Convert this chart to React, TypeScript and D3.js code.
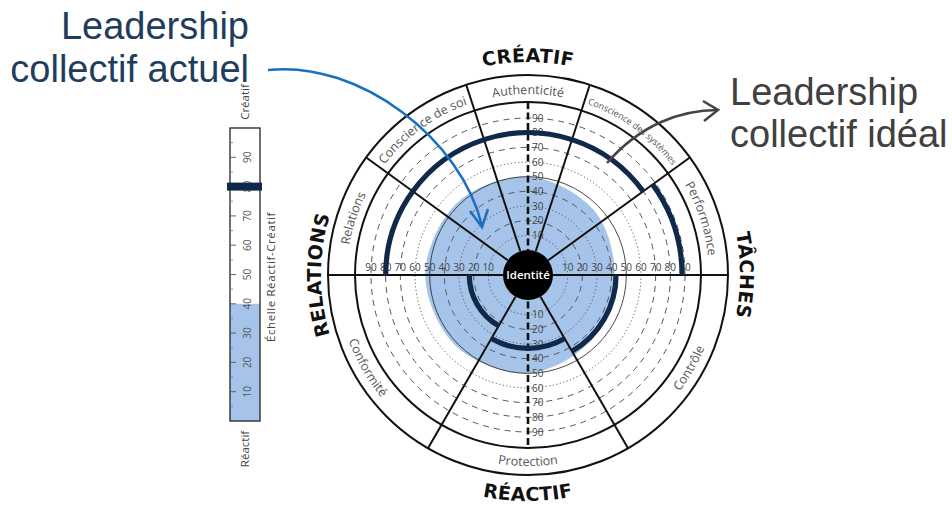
import React from "react";
import * as d3 from "d3";

// ---------- data ----------
const sectorNames = ["Relations", "Conscience de soi", "Authenticité", "Conscience des systèmes", "Performance", "Contrôle", "Protection", "Conformité"];
const sectorStartDeg = [-90, -54, -18, 18, 54, 90, 150, 210];
const sectorEndDeg = [-54, -18, 18, 54, 90, 150, 210, 270];
const idealValues = [80, 80, 80, 80, 88, 43, 33, 23];

// current profile (blue area), by direction (degrees, 0 = top, clockwise)
const currentAngles = [0, 45, 90, 135, 180, 225, 270, 315];
const currentValues = [50, 46, 42, 45, 50, 52, 53, 52];

const ringTicks = [10, 20, 30, 40, 50, 60, 70, 80, 90];
const ringStyles = ["dot", "dash", "dot", "dash", "solid", "dot", "dash", "dash", "dash"];

const axisLabels = ["CRÉATIF", "TÂCHES", "RÉACTIF", "RELATIONS"];

const barTicks = [10, 20, 30, 40, 50, 60, 70, 80, 90];
const barMinor = [5, 15, 25, 35, 45, 55, 65, 75, 85, 95];
const barCurrent = 40;
const barIdeal = 80;

// ---------- geometry ----------
const W = 952, H = 509;
const cx = 528, cy = 275;
const rCore = 25;
const rInner = 173;
const rOuter = 200;
const r = d3.scaleLinear().domain([0, 90]).range([rCore, 157]);
const rad = (d: number) => (d * Math.PI) / 180;
const px = (a: number, rr: number) => cx + rr * Math.sin(rad(a));
const py = (a: number, rr: number) => cy - rr * Math.cos(rad(a));

function arcPath(rr: number, a0: number, a1: number) {
  const sweep = a1 > a0 ? 1 : 0;
  const large = Math.abs(a1 - a0) > 180 ? 1 : 0;
  return `M${px(a0, rr)},${py(a0, rr)} A${rr},${rr} 0 ${large} ${sweep} ${px(a1, rr)},${py(a1, rr)}`;
}

const yBar = d3.scaleLinear().domain([0, 100]).range([421, 128]);

const NAVY = "#10294a";
const BLUE = "#a6c4ea";
const FONT = "'Open Sans', sans-serif";

export default function App() {
  const arcGen = d3.arc<any>();
  const blobGen = d3
    .lineRadial<number>()
    .angle((_, i) => rad(currentAngles[i]))
    .radius((v) => r(v))
    .curve(d3.curveCardinalClosed);
  const blob = blobGen(currentValues) || "";

  const dashFor = (s: string) => (s === "dash" ? "6,5" : s === "dot" ? "1.2,2.4" : undefined);

  const spokes = Array.from(new Set([...sectorStartDeg, ...sectorEndDeg])).filter((a) => a !== 270 && a !== -90 && a !== 90);

  return (
    <svg width={W} height={H} style={{ position: "absolute", left: 0, top: 0, background: "#fff" }} fontFamily={FONT}>
      <defs>
        {sectorNames.map((_, i) => {
          const top = i < 5;
          const a0 = sectorStartDeg[i], a1 = sectorEndDeg[i];
          return (
            <path
              key={"lp" + i}
              id={"lp" + i}
              d={top ? arcPath(181, a0, a1) : arcPath(191, a1, a0)}
              fill="none"
            />
          );
        })}
        <path id="ax0" d={arcPath(213, -40, 40)} fill="none" />
        <path id="ax1" d={arcPath(212, 50, 130)} fill="none" />
        <path id="ax2" d={arcPath(226, 220, 140)} fill="none" />
        <path id="ax3" d={arcPath(207, 230, 310)} fill="none" />
      </defs>

      {/* blue current area */}
      <path d={blob} transform={`translate(${cx},${cy})`} fill={BLUE} />

      {/* concentric rings */}
      {ringTicks.map((v, i) => (
        <circle
          key={"ring" + v}
          cx={cx}
          cy={cy}
          r={r(v)}
          fill="none"
          stroke={ringStyles[i] === "solid" ? "#333" : "#555"}
          strokeWidth={ringStyles[i] === "solid" ? 0.9 : 1}
          strokeDasharray={dashFor(ringStyles[i])}
        />
      ))}

      {/* outer rings */}
      <circle cx={cx} cy={cy} r={rInner} fill="none" stroke="#111" strokeWidth={2} />
      <circle cx={cx} cy={cy} r={rOuter} fill="none" stroke="#111" strokeWidth={2} />

      {/* horizontal axis */}
      <line x1={cx - rOuter} x2={cx + rOuter} y1={cy} y2={cy} stroke="#111" strokeWidth={2} />
      {/* spokes */}
      {spokes.map((a) => (
        <line key={"sp" + a} x1={px(a, rCore)} y1={py(a, rCore)} x2={px(a, rOuter)} y2={py(a, rOuter)} stroke="#111" strokeWidth={2} />
      ))}

      {/* vertical dashed axis */}
      <line x1={cx} x2={cx} y1={cy - rInner} y2={cy + rInner} stroke="#111" strokeWidth={2.6} strokeDasharray="7,3.5" />

      {/* tick labels */}
      {ringTicks.map((v) => (
        <g key={"tl" + v} fontSize={10} fill="#444">
          <text x={cx - r(v)} y={cy - 4} textAnchor="middle">{v}</text>
          <text x={cx + r(v)} y={cy - 4} textAnchor="middle">{v}</text>
          <text x={cx + 4} y={cy - r(v)} dy="0.35em" textAnchor="start">{v}</text>
          <text x={cx + 4} y={cy + r(v)} dy="0.35em" textAnchor="start">{v}</text>
        </g>
      ))}

      {/* ideal arcs */}
      {idealValues.map((v, i) => (
        <path
          key={"ideal" + i}
          transform={`translate(${cx},${cy})`}
          d={
            arcGen({
              innerRadius: r(v) - 2.6,
              outerRadius: r(v) + 2.6,
              startAngle: rad(sectorStartDeg[i]),
              endAngle: rad(sectorEndDeg[i]),
            }) || ""
          }
          fill={NAVY}
        />
      ))}

      {/* Identité */}
      <circle cx={cx} cy={cy} r={rCore} fill="#000" />
      <text x={cx} y={cy} dy="0.35em" textAnchor="middle" fill="#fff" fontSize={11.5} fontWeight={600}>
        Identité
      </text>

      {/* sector labels */}
      {sectorNames.map((name, i) => (
        <text key={"sl" + i} fontSize={name.length > 20 ? 9 : 12.5} fill="#555">
          <textPath href={"#lp" + i} startOffset="50%" textAnchor="middle">
            {name}
          </textPath>
        </text>
      ))}

      {/* axis labels */}
      {axisLabels.map((t, i) => (
        <text key={"ax" + i} fontSize={19} fontWeight={700} fill="#111" fontFamily="'DejaVu Sans', sans-serif" letterSpacing={0.3}>
          <textPath href={"#ax" + i} startOffset="50%" textAnchor="middle">
            {t}
          </textPath>
        </text>
      ))}

      {/* scale bar */}
      <g>
        <rect x={230} y={yBar(barCurrent)} width={30} height={yBar(0) - yBar(barCurrent)} fill={BLUE} />
        <rect x={230} y={yBar(100)} width={30} height={yBar(0) - yBar(100)} fill="none" stroke="#222" strokeWidth={1.3} />
        {barTicks.map((v) => (
          <g key={"bt" + v}>
            <line x1={230} x2={236} y1={yBar(v)} y2={yBar(v)} stroke="#555" strokeWidth={0.9} />
            <text transform={`translate(247,${yBar(v)}) rotate(-90)`} textAnchor="middle" dy="0.35em" fontSize={10} fill="#555">
              {v}
            </text>
          </g>
        ))}
        {barMinor.map((v) => (
          <line key={"bm" + v} x1={231} x2={233} y1={yBar(v)} y2={yBar(v)} stroke="#777" strokeWidth={0.8} />
        ))}
        <rect x={227} y={yBar(barIdeal) - 4} width={35} height={8} fill={NAVY} />
        <text transform={`translate(245,102) rotate(-90)`} textAnchor="middle" dy="0.35em" fontSize={11.5} fill="#444">
          Créatif
        </text>
        <text transform={`translate(245,449) rotate(-90)`} textAnchor="middle" dy="0.35em" fontSize={11.5} fill="#444">
          Réactif
        </text>
        <text transform={`translate(271,277) rotate(-90)`} textAnchor="middle" dy="0.35em" fontSize={11.5} fill="#444" letterSpacing={0.6}>
          Échelle Réactif-Créatif
        </text>
      </g>

      {/* annotations */}
      <g fontFamily="'Liberation Sans', Arial, sans-serif" fontSize={38}>
        <text x={249} y={39} textAnchor="end" fill="#1f3d5c">Leadership</text>
        <text x={249} y={82} textAnchor="end" fill="#1f3d5c">collectif actuel</text>
        <text x={730} y={105} fill="#404040">Leadership</text>
        <text x={730} y={147} fill="#404040">collectif idéal</text>
      </g>
      <path d="M268,70 C360,60 462,140 482,226" fill="none" stroke="#1a70bf" strokeWidth={2.5} />
      <path d="M470,211 L482,227 L488,209" fill="none" stroke="#1a70bf" strokeWidth={2.5} strokeLinejoin="miter" />
      <path d="M607,163 C640,125 680,110 718,110" fill="none" stroke="#444" strokeWidth={2.5} />
      <path d="M703,101 L718,110 L704,121" fill="none" stroke="#444" strokeWidth={2.5} />
    </svg>
  );
}
